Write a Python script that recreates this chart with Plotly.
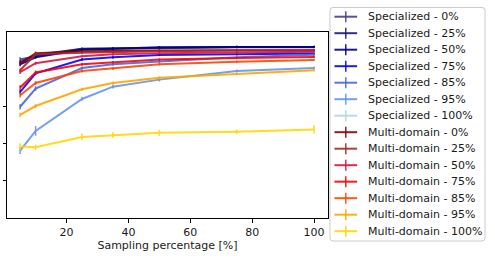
import plotly.graph_objects as go

# ---------------- data ----------------
x_pct = [5, 10, 25, 35, 50, 75, 100]
x_ticks = [20, 40, 60, 80, 100]
y_ticks = [0.6, 0.7, 0.8, 0.9]

series_names = [
    "Specialized - 0%", "Specialized - 25%", "Specialized - 50%", "Specialized - 75%",
    "Specialized - 85%", "Specialized - 95%", "Specialized - 100%",
    "Multi-domain - 0%", "Multi-domain - 25%", "Multi-domain - 50%", "Multi-domain - 75%",
    "Multi-domain - 85%", "Multi-domain - 95%", "Multi-domain - 100%",
]
series_colors = [
    "rgba(72,61,139,0.9)", "rgba(25,25,112,0.9)", "rgba(0,0,139,0.9)", "rgba(0,0,255,0.9)",
    "rgba(65,105,225,0.9)", "rgba(100,149,237,0.9)", "rgba(173,216,230,0.9)",
    "rgba(139,0,0,0.9)", "rgba(165,42,42,0.9)", "rgba(220,20,60,0.9)", "rgba(255,0,0,0.9)",
    "rgba(255,69,0,0.9)", "rgba(255,165,0,0.9)", "rgba(255,215,0,0.9)",
]

spec_0 = [0.926, 0.935, 0.954, 0.955, 0.956, 0.959, 0.959]
spec_25 = [0.919, 0.938, 0.955, 0.956, 0.958, 0.960, 0.960]
spec_50 = [0.913, 0.932, 0.952, 0.955, 0.959, 0.960, 0.960]
spec_75 = [0.839, 0.889, 0.926, 0.932, 0.938, 0.940, 0.942]
spec_85 = [0.799, 0.848, 0.903, 0.913, 0.921, 0.932, 0.939]
spec_95 = [0.681, 0.734, 0.820, 0.853, 0.872, 0.895, 0.903]
spec_100 = [None, None, None, None, None, None, None]
multi_0 = [0.915, 0.943, 0.948, 0.948, 0.950, 0.951, 0.951]
multi_25 = [0.897, 0.940, 0.944, 0.946, 0.948, 0.950, 0.951]
multi_50 = [0.892, 0.916, 0.935, 0.940, 0.943, 0.946, 0.947]
multi_75 = [0.851, 0.891, 0.913, 0.919, 0.926, 0.930, 0.933]
multi_85 = [0.830, 0.863, 0.895, 0.902, 0.913, 0.920, 0.925]
multi_95 = [0.777, 0.801, 0.846, 0.863, 0.877, 0.887, 0.897]
multi_100 = [0.692, 0.690, 0.718, 0.723, 0.729, 0.732, 0.738]

spec_0_err = [0.006, 0.004, 0.003, 0.003, 0.003, 0.003, 0.003]
spec_25_err = [0.005, 0.004, 0.003, 0.003, 0.003, 0.003, 0.003]
spec_50_err = [0.005, 0.004, 0.003, 0.003, 0.003, 0.003, 0.003]
spec_75_err = [0.006, 0.005, 0.004, 0.004, 0.003, 0.003, 0.003]
spec_85_err = [0.007, 0.006, 0.004, 0.004, 0.004, 0.003, 0.003]
spec_95_err = [0.009, 0.013, 0.005, 0.005, 0.005, 0.004, 0.004]
spec_100_err = [None, None, None, None, None, None, None]
multi_0_err = [0.005, 0.004, 0.003, 0.003, 0.003, 0.003, 0.003]
multi_25_err = [0.005, 0.004, 0.003, 0.003, 0.003, 0.003, 0.003]
multi_50_err = [0.005, 0.004, 0.003, 0.003, 0.003, 0.003, 0.003]
multi_75_err = [0.006, 0.005, 0.004, 0.003, 0.003, 0.003, 0.003]
multi_85_err = [0.006, 0.005, 0.004, 0.004, 0.003, 0.003, 0.003]
multi_95_err = [0.006, 0.005, 0.004, 0.004, 0.004, 0.003, 0.003]
multi_100_err = [0.009, 0.007, 0.009, 0.008, 0.008, 0.006, 0.011]

series_values = [spec_0, spec_25, spec_50, spec_75, spec_85, spec_95, spec_100,
                 multi_0, multi_25, multi_50, multi_75, multi_85, multi_95, multi_100]
series_errors = [spec_0_err, spec_25_err, spec_50_err, spec_75_err, spec_85_err, spec_95_err, spec_100_err,
                 multi_0_err, multi_25_err, multi_50_err, multi_75_err, multi_85_err, multi_95_err, multi_100_err]

# ---------------- figure ----------------
W, H = 495, 260
ML, MR, MT, MB = 3, 167, 32, 42
PW, PH = W - ML - MR, H - MT - MB

fig = go.Figure()
for name, col, vals, errs in zip(series_names, series_colors, series_values, series_errors):
    fig.add_trace(go.Scatter(
        x=x_pct, y=vals, name=name, mode="lines",
        line=dict(color=col, width=2),
        error_y=dict(type="data", array=errs, visible=True, color=col, thickness=1.5, width=0),
        showlegend=False,
    ))

# manual legend (matplotlib-style compact legend)
def px_x(p):
    return (p - ML) / PW

def px_y(p):
    return (H - MB - p) / PH

shapes = []
annotations = []
bx0, bx1, by0, by1, r = 330, 487, 7.5, 241, 3
path = (f"M {px_x(bx0 + r)} {px_y(by0)} L {px_x(bx1 - r)} {px_y(by0)} "
        f"Q {px_x(bx1)} {px_y(by0)} {px_x(bx1)} {px_y(by0 + r)} "
        f"L {px_x(bx1)} {px_y(by1 - r)} Q {px_x(bx1)} {px_y(by1)} {px_x(bx1 - r)} {px_y(by1)} "
        f"L {px_x(bx0 + r)} {px_y(by1)} Q {px_x(bx0)} {px_y(by1)} {px_x(bx0)} {px_y(by1 - r)} "
        f"L {px_x(bx0)} {px_y(by0 + r)} Q {px_x(bx0)} {px_y(by0)} {px_x(bx0 + r)} {px_y(by0)} Z")
shapes.append(dict(type="path", path=path, xref="paper", yref="paper",
                   line=dict(color="#cccccc", width=1), fillcolor="rgba(255,255,255,0.8)", layer="above"))
row0, dy = 16.7, 16.5
for i, (name, col) in enumerate(zip(series_names, series_colors)):
    yc = row0 + dy * i
    shapes.append(dict(type="line", xref="paper", yref="paper",
                       x0=px_x(334.5), x1=px_x(357.5), y0=px_y(yc), y1=px_y(yc),
                       line=dict(color=col, width=2), layer="above"))
    shapes.append(dict(type="line", xref="paper", yref="paper",
                       x0=px_x(346), x1=px_x(346), y0=px_y(yc - 5.5), y1=px_y(yc + 5.5),
                       line=dict(color=col, width=1.5), layer="above"))
    annotations.append(dict(text=name, xref="paper", yref="paper", x=px_x(366), y=px_y(yc),
                            xanchor="left", yanchor="middle", showarrow=False,
                            font=dict(family="DejaVu Sans", size=11, color="#1a1a1a")))

fig.update_layout(
    width=W, height=H,
    margin=dict(l=ML, r=MR, t=MT, b=MB, pad=0),
    paper_bgcolor="white", plot_bgcolor="white",
    font=dict(family="DejaVu Sans", size=11, color="#1a1a1a"),
    showlegend=False,
    shapes=shapes, annotations=annotations,
    xaxis=dict(range=[0.75, 104.5], tickvals=x_ticks, ticks="outside", ticklen=3.5, tickwidth=1,
               tickcolor="black", showline=True, linecolor="black", linewidth=1, mirror=True,
               showgrid=False, zeroline=False, tickfont=dict(size=11),
               title=dict(text="Sampling percentage [%]", font=dict(size=11), standoff=3)),
    yaxis=dict(range=[0.5, 1.0], tickvals=y_ticks, ticks="outside", ticklen=3.5, tickwidth=1,
               tickcolor="black", showline=True, linecolor="black", linewidth=1, mirror=True,
               showgrid=False, zeroline=False, showticklabels=False),
)

fig.write_html("out.html", config={"displayModeBar": False},
               post_script="document.body.style.margin='0px';")
